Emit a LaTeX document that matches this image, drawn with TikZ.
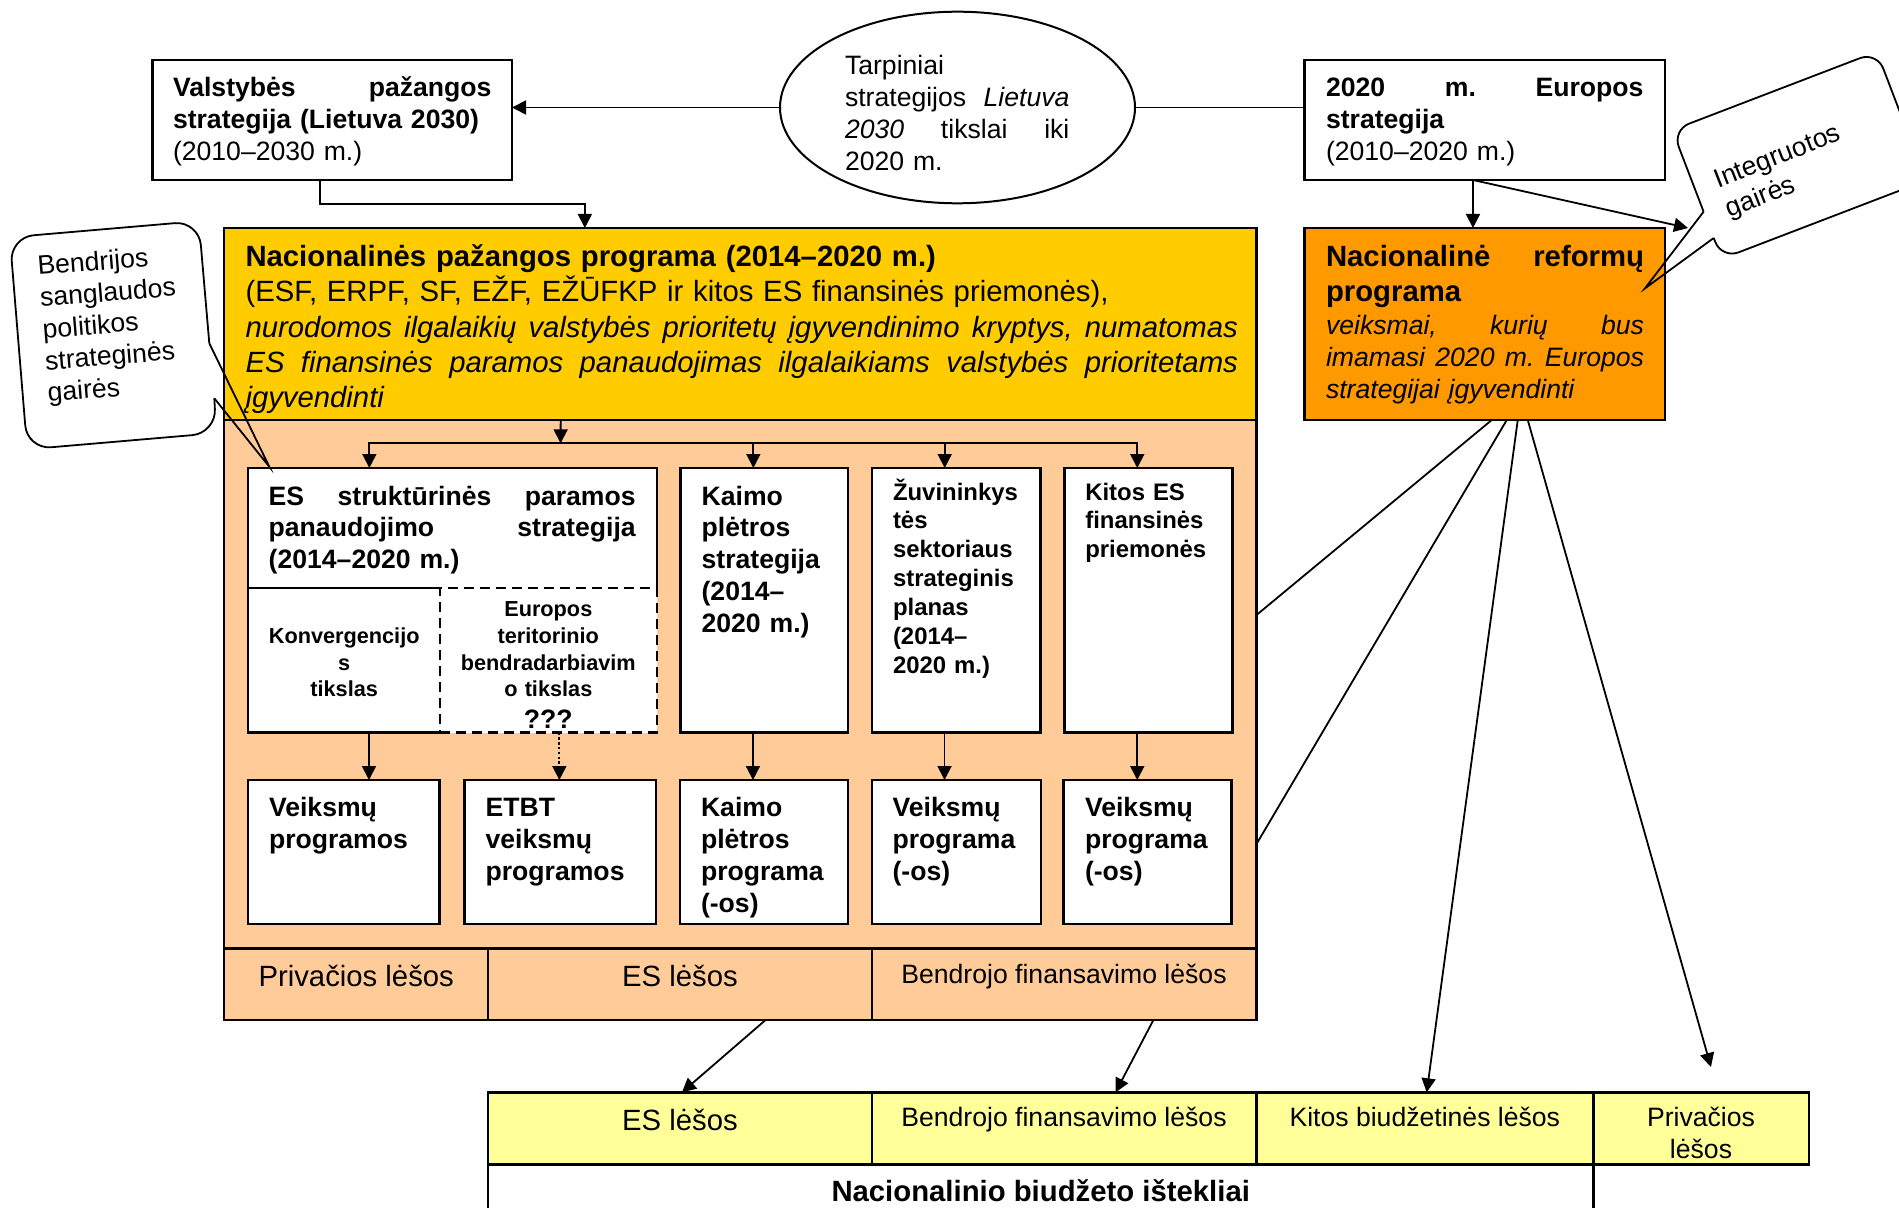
\documentclass[tikz,border=0pt]{standalone}
\usepackage{fontspec}
\setmainfont{Liberation Sans}
\usetikzlibrary{arrows.meta,shapes.geometric}
\definecolor{nppyellow}{RGB}{255,204,0}
\definecolor{peachcol}{RGB}{255,204,153}
\definecolor{nrporange}{RGB}{255,153,0}
\definecolor{lightyel}{RGB}{255,255,153}
\newcommand\fA{\fontsize{13.3pt}{15.9pt}\selectfont}
\newcommand\fB{\fontsize{14.65pt}{17.6pt}\selectfont}
\newcommand\fC{\fontsize{11.95pt}{14.45pt}\selectfont}
\newcommand\fD{\fontsize{10.85pt}{13.35pt}\selectfont}
\newcommand\boxnode[6]{\node[#2, minimum width={(#5-#3)*0.5pt}, minimum height={(#6-#4)*0.5pt}] (#1) at ({(#3+#5)/2},{(#4+#6)/2}) {};}
\begin{document}
\begin{tikzpicture}[x=0.5pt, y=-0.5pt,
  bx/.style={draw, line width=1.2pt, inner sep=0pt, outer sep=0pt, fill=white},
  nobx/.style={inner sep=0pt, outer sep=0pt, fill=white},
  bw/.style={line width=1.2pt},
  txt/.style={inner sep=0pt, outer sep=0pt, anchor=base west, align=left},
  ctxt/.style={inner sep=0pt, outer sep=0pt, anchor=base},
  arr/.style={line width=0.9pt, -{Triangle[length=7pt,width=7pt]}},
  ln/.style={line width=0.9pt},
  dashbox/.style={dash pattern=on 5pt off 3pt}
]
\useasboundingbox (0,0) rectangle (1899,1208);
\clip (0,0) rectangle (1899,1208);

% ---------- top row ----------
\boxnode{val}{bx}{152.6}{60}{512}{180}
\node[bx, line width=1pt, ellipse, minimum width=177.5pt, minimum height=95.8pt] (ell) at (957.5,107.5) {};
\boxnode{eur}{bx}{1304.5}{60}{1665}{180}

% ---------- big programme boxes ----------
\boxnode{peach}{bx, fill=peachcol}{224}{420}{1256.5}{1020}
\boxnode{npp}{bx, fill=nppyellow}{224}{228}{1256.5}{420}
\boxnode{nrp}{bx, fill=nrporange}{1304.5}{228}{1665}{420}

% ---------- strategies ----------
\boxnode{esh}{nobx}{248}{468}{656.7}{588}
\draw[bw] (esh.south east) -- (esh.north east) -- (esh.north west) -- (esh.south west);
\boxnode{konv}{nobx}{248}{588}{440}{732.5}
\draw[bw] (konv.north east) -- (konv.north west) -- (konv.south west) -- (konv.south east);
\boxnode{etb}{bx, dashbox}{440}{588}{656.7}{732.5}
\boxnode{kaimo}{bx}{680.5}{468}{848.2}{732.5}
\boxnode{zuv}{bx}{872}{468}{1040.4}{732.5}
\boxnode{kitos}{bx}{1064.3}{468}{1232.6}{732.5}

% ---------- programmes ----------
\boxnode{veik1}{bx}{247.7}{780}{439.4}{924}
\boxnode{etbt}{bx}{464.4}{780}{656.1}{924}
\boxnode{kprog}{bx}{680}{780}{848}{924}
\boxnode{vp1}{bx}{871.7}{780}{1040.7}{924}
\boxnode{vp2}{bx}{1063.5}{780}{1231.4}{924}

% ---------- funding row in programme ----------
\boxnode{priv1}{bx, fill=peachcol}{224}{948.3}{488.2}{1020}
\boxnode{esl1}{bx, fill=peachcol}{488.2}{948.3}{871.7}{1020}
\boxnode{bfl1}{bx, fill=peachcol}{871.7}{948.3}{1256.5}{1020}

% ---------- national budget table ----------
\boxnode{nbi}{bx}{488.2}{1164.3}{1593.3}{1240}
\boxnode{esl2}{bx, fill=lightyel}{488.2}{1092.3}{871.7}{1164.3}
\boxnode{bfl2}{bx, fill=lightyel}{871.7}{1092.3}{1256.3}{1164.3}
\boxnode{kbl}{bx, fill=lightyel}{1256.3}{1092.3}{1593.3}{1164.3}
\boxnode{pl2}{bx, fill=lightyel}{1593.3}{1092.3}{1809}{1164.3}

% ---------- texts ----------
\node[txt, font=\fA, text width=159.25pt] (val-t) at (173,96.7)
  {\textbf{Valstybės\hfill pažangos}\\\textbf{strategija (Lietuva 2030)}\\(2010–2030 m.)};
\node[txt, font=\fA, text width=112.2pt] (ell-t) at (845,75)
  {Tarpiniai\\strategijos\hfill\textit{Lietuva}\\\textit{2030}\hfill tikslai\hfill iki\\2020 m.};
\node[txt, font=\fA, text width=158.75pt] (eur-t) at (1326,96.7)
  {\textbf{2020\hfill m.\hfill Europos}\\\textbf{strategija}\\(2010–2020 m.)};
\node[txt, font=\fB, text width=496.25pt] (npp-t) at (245.5,266.7)
  {\textbf{Nacionalinės pažangos programa (2014–2020 m.)}\\
   (ESF, ERPF, SF, EŽF, EŽŪFKP ir kitos ES finansinės priemonės),\\
   \textit{nurodomos\hfill ilgalaikių\hfill valstybės\hfill prioritetų\hfill įgyvendinimo\hfill kryptys,\hfill numatomas}\\
   \textit{ES\hfill finansinės\hfill paramos\hfill panaudojimas\hfill ilgalaikiams\hfill valstybės\hfill prioritetams}\\
   \textit{įgyvendinti}};
\node[txt, font=\fB\bfseries, text width=159pt] (nrp-t) at (1326,266.7)
  {Nacionalinė\hfill reformų\\programa};
\node[txt, font=\fA\itshape, text width=159pt] (nrp-i) at (1326,335)
  {veiksmai,\hfill kurių\hfill bus\\imamasi\hfill 2020\hfill m.\hfill Europos\\strategijai įgyvendinti};

\node[txt, font=\fA\bfseries, text width=183.5pt] (esh-t) at (268.7,505)
  {ES\hfill struktūrinės\hfill paramos\\panaudojimo\hfill strategija\\(2014–2020 m.)};
\node[ctxt, font=\fD\bfseries, text width=90pt, align=center] (konv-t) at (344.2,643.3)
  {Konvergencijo\\s\\tikslas};
\node[ctxt, font=\fD\bfseries, text width=100pt, align=center] (etb-t) at (548.3,616.6)
  {Europos\\teritorinio\\bendradarbiavim\\o tikslas};
\node[ctxt, font=\fA\bfseries] (etb-q) at (548.3,728.5) {???};
\node[txt, font=\fA\bfseries, text width=70pt] (kaimo-t) at (701.6,505)
  {Kaimo\\plėtros\\strategija\\(2014–\\2020 m.)};
\node[txt, font=\fC\bfseries, text width=75pt] (zuv-t) at (893,500)
  {Žuvininkys\\tės\\sektoriaus\\strateginis\\planas\\(2014–\\2020 m.)};
\node[txt, font=\fC\bfseries, text width=75pt] (kitos-t) at (1085.3,500)
  {Kitos ES\\finansinės\\priemonės};

\node[txt, font=\fA\bfseries, text width=80pt] (veik1-t) at (269,816.7) {Veiksmų\\programos};
\node[txt, font=\fA\bfseries, text width=80pt] (etbt-t) at (485.6,816.7) {ETBT\\veiksmų\\programos};
\node[txt, font=\fA\bfseries, text width=70pt] (kprog-t) at (701,816.7) {Kaimo\\plėtros\\programa\\(-os)};
\node[txt, font=\fA\bfseries, text width=70pt] (vp1-t) at (892.6,816.7) {Veiksmų\\programa\\(-os)};
\node[txt, font=\fA\bfseries, text width=70pt] (vp2-t) at (1085,816.7) {Veiksmų\\programa\\(-os)};

\node[ctxt, font=\fB] (priv1-t) at (356.2,986.7) {Privačios lėšos};
\node[ctxt, font=\fB] (esl1-t) at (680,986.7) {ES lėšos};
\node[ctxt, font=\fA] (bfl1-t) at (1064,983.3) {Bendrojo finansavimo lėšos};

\node[ctxt, font=\fB] (esl2-t) at (680,1130) {ES lėšos};
\node[ctxt, font=\fA] (bfl2-t) at (1064,1126.7) {Bendrojo finansavimo lėšos};
\node[ctxt, font=\fA] (kbl-t) at (1424.8,1126.7) {Kitos biudžetinės lėšos};
\node[ctxt, font=\fA, text width=100pt, align=center] (pl2-t) at (1701,1126.7) {Privačios\\lėšos};
\node[ctxt, font=\fB\bfseries] (nbi-t) at (1040.7,1201.7) {Nacionalinio biudžeto ištekliai};

% ---------- connectors: top ----------
\draw[arr] (ell.west) -- (ell.west -| val.east);
\draw[ln] (ell.east) -- (ell.east -| eur.west);
\draw[arr] ([xshift=-6.15pt]val.south) -- ++(0,24) -| ([xshift=-77.7pt]npp.north);
\draw[arr] ([xshift=-5.9pt]eur.south) -- ([xshift=-5.9pt]nrp.north);
\coordinate (igtip) at (1688,228);
\draw[arr] ([xshift=-5.9pt]eur.south) -- (igtip);

% ---------- bus ----------
\coordinate (bus) at (560.6,443.3);
\draw[arr] ([xshift=-89.8pt]npp.south) -- (bus);
\draw[arr] (bus) -| ([xshift=-41.5pt]esh.north);
\draw[arr] (bus) -| ([xshift=-5.5pt]kaimo.north);
\draw[arr] (bus) -| ([xshift=-5.75pt]zuv.north);
\draw[arr] (bus) -| ([xshift=-5.6pt]kitos.north);

% ---------- strategy -> programme ----------
\draw[arr] ([xshift=12.5pt]konv.south) -- ([xshift=12.5pt]konv.south |- veik1.north);
\draw[arr, dash pattern=on 1.2pt off 1.2pt] ([xshift=5.5pt]etb.south) -- ([xshift=5.5pt]etb.south |- etbt.north);
\draw[arr] ([xshift=-5.7pt]kaimo.south) -- ([xshift=-5.7pt]kaimo.south |- kprog.north);
\draw[arr] ([xshift=-5.85pt]zuv.south) -- ([xshift=-5.85pt]zuv.south |- vp1.north);
\draw[arr] ([xshift=-5.6pt]kitos.south) -- ([xshift=-5.6pt]kitos.south |- vp2.north);

% ---------- funding arrows ----------
\draw[arr] ([xshift=42.8pt]esl1.south) -- ([xshift=1pt]esl2.north);
\draw[arr] ([xshift=44.65pt]bfl1.south) -- ([xshift=25.75pt]bfl2.north);

% ---------- NRP fan ----------
\draw[ln] ([xshift=3.5pt]nrp.south) -- ([yshift=52.5pt]peach.east);
\draw[ln] ([xshift=11pt]nrp.south) -- ([yshift=-62pt]peach.east);
\draw[arr] ([xshift=16.5pt]nrp.south) -- ([xshift=0.95pt]kbl.north);
\draw[arr] ([xshift=21.5pt]nrp.south) -- ([xshift=4.9pt,yshift=12.65pt]pl2.north);

% ---------- callouts ----------
\draw[ln, rounded corners=12pt] (209.3,343.3) -- (198.8,221.1) -- (9.8,237.3) -- (27.2,449.3) -- (216.2,433.1) -- (214.3,398.3);
\draw[ln] (214.3,398.3) -- (269.3,466.7) -- (209.3,343.3);
\node[txt, font=\fA, rotate=4.6, text width=90pt] (bend-t) at (38.3,275)
  {Bendrijos\\sanglaudos\\politikos\\strateginės\\gairės};

\draw[ln, rounded corners=9pt] (1703.6,211.7) -- (1672.3,130.1) -- (1876.8,51.7) -- (1926,180.5) -- (1721.7,258.8) -- (1713.7,238);
\draw[ln] (1713.7,238) -- (1645,288.3) -- (1703.6,211.7);
\node[txt, font=\fA, rotate=21.4, text width=80pt] (ig-t) at (1718.3,188.3)
  {Integruotos\\gairės};
\end{tikzpicture}
\end{document}
